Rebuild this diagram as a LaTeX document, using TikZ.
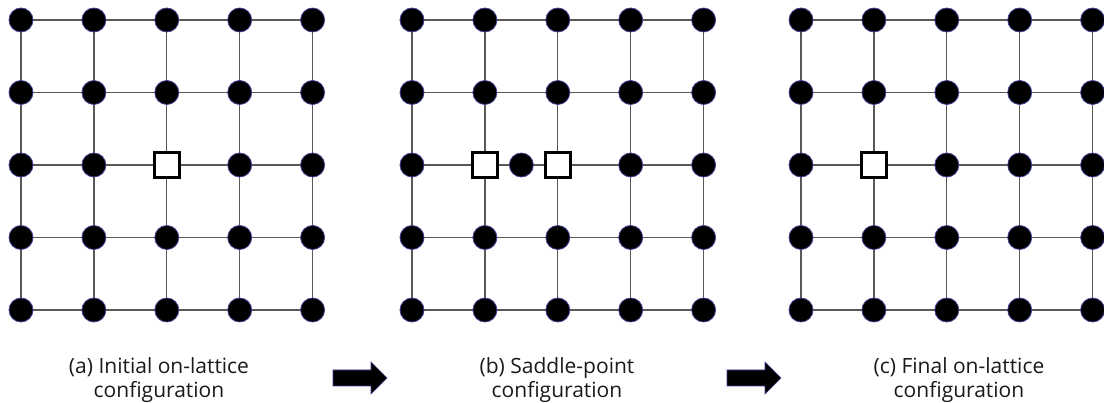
\documentclass[tikz,border=0pt]{standalone}
\usepackage{fontspec}
\setmainfont{Open Sans}
\usetikzlibrary{calc}
\begin{document}
\begin{tikzpicture}[x=1pt,y=-1pt,
  bond/.style={draw=black!65, line width=1.2pt},
  atom/.style={circle, fill=black, draw=blue!45!black!75, line width=0.8pt, minimum size=24pt, inner sep=0pt},
  vacancy/.style={rectangle, fill=white, draw=black, line width=3pt, minimum size=25pt, inner sep=0pt},
  arrowshape/.style={fill=black, draw=blue!45!black!75, line width=0.6pt},
  caption/.style={font=\fontsize{21}{24.5}\selectfont, align=center, text=black!90}]
\useasboundingbox (0,0) rectangle (1104,403);
% lattice coordinates
\foreach \p/\xo in {a/21, b/412, c/801}{
  \foreach \i in {0,...,4}{
    \foreach \j in {0,...,4}{
      \coordinate (\p-\i-\j) at ({\xo+\i*72.9},{20+\j*72.5});
    }
  }
}
% bonds
\foreach \p in {a,b,c}{
  \foreach \k in {0,...,4}{
    \draw[bond] (\p-0-\k) -- (\p-4-\k);
    \draw[bond] (\p-\k-0) -- (\p-\k-4);
  }
}
% atoms
\foreach \i in {0,...,4}{
  \foreach \j in {0,...,4}{
    \ifnum\j=2
      \ifnum\i=2 \else \node[atom] (na-\i-\j) at (a-\i-\j) {}; \fi
      \ifnum\i=1 \else \ifnum\i=2 \else \node[atom] (nb-\i-\j) at (b-\i-\j) {}; \fi\fi
      \ifnum\i=1 \else \node[atom] (nc-\i-\j) at (c-\i-\j) {}; \fi
    \else
      \node[atom] (na-\i-\j) at (a-\i-\j) {};
      \node[atom] (nb-\i-\j) at (b-\i-\j) {};
      \node[atom] (nc-\i-\j) at (c-\i-\j) {};
    \fi
  }
}
% vacancies and saddle atom
\node[vacancy] (va) at (a-2-2) {};
\node[vacancy] (vb1) at (b-1-2) {};
\node[vacancy] (vb2) at (b-2-2) {};
\node[atom] (sb) at ($(b-1-2)!0.5!(b-2-2)$) {};
\node[vacancy] (vc) at (c-1-2) {};
% captions
\node[caption] (capa) at (159,380) {(a) Initial on-lattice\\configuration};
\node[caption] (capb) at (557,380) {(b) Saddle-point\\configuration};
\node[caption] (capc) at (959,380) {(c) Final on-lattice\\configuration};
% arrows
\draw[arrowshape] (333,370) -- (371,370) -- (371,362) -- (387,378) -- (371,394) -- (371,386) -- (333,386) -- cycle;
\draw[arrowshape] (727,370) -- (765,370) -- (765,362) -- (781,378) -- (765,394) -- (765,386) -- (727,386) -- cycle;
\end{tikzpicture}
\end{document}
